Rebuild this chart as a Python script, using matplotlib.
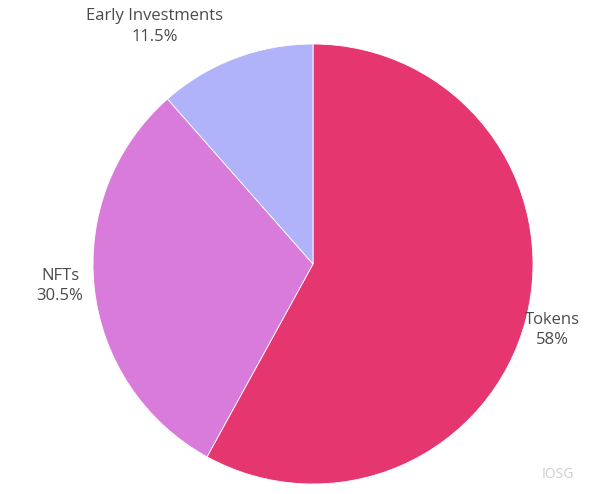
import numpy as np
import matplotlib.pyplot as plt

labels = ['Tokens', 'NFTs', 'Early Investments']
values = [58, 30.5, 11.5]
pct_labels = ['58%', '30.5%', '11.5%']
colors = ['#E6366F', '#D97BDB', '#B0B3F9']

plt.rcParams['font.family'] = ['Open Sans', 'DejaVu Sans']

fig = plt.figure(figsize=(6, 4.94), dpi=100)
cx, cy, r = 313, 264, 220
ax = fig.add_axes([(cx - r) / 600, (494 - cy - r) / 494, 2 * r / 600, 2 * r / 494])

wedges, texts = ax.pie(values, colors=colors, startangle=90, counterclock=False,
                       labels=[f'{l}\n{p}' for l, p in zip(labels, pct_labels)],
                       labeldistance=1.14,
                       wedgeprops=dict(edgecolor='white', linewidth=0.6),
                       textprops=dict(color='#4a4a4a', fontsize=12, ha='center', va='center',
                                      linespacing=1.35))
for t in texts:
    t.set_ha('center')
# nudge labels to where the reference has them
texts[2].set_position((-0.72, 1.08))
texts[1].set_position((-1.15, -0.10))
texts[0].set_position((1.09, -0.30))

ax.set_xlim(-1, 1)
ax.set_ylim(-1, 1)

fig.text(0.93, 0.025, 'IOSG', color='#cccccc', fontsize=10, ha='center', va='bottom')

fig.savefig('out.png', dpi=100)
